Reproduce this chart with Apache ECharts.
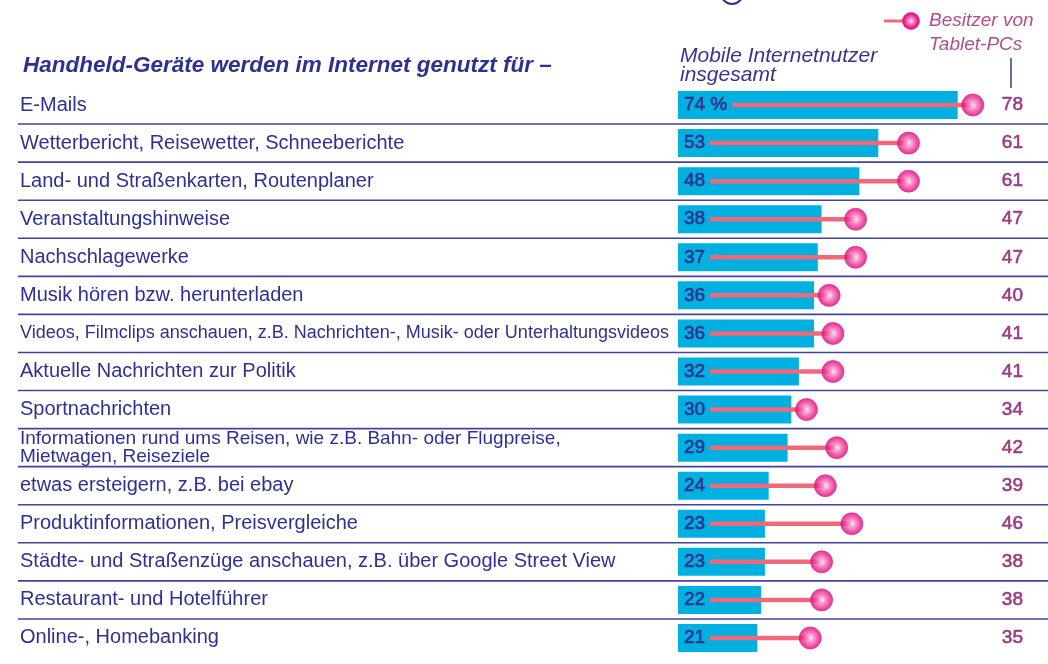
<!DOCTYPE html>
<html>
<head>
<meta charset="utf-8">
<script src="https://cdn.jsdelivr.net/npm/echarts@6/dist/echarts.min.js"></script>
<style>
  html, body { margin: 0; padding: 0; background: #fff; }
  #chart { width: 1048px; height: 664px; }
</style>
</head>
<body>
<div id="chart"></div>
<script>
// Nutzungszwecke (Zeilen von oben nach unten)
const categories = [
  'E-Mails',
  'Wetterbericht, Reisewetter, Schneeberichte',
  'Land- und Straßenkarten, Routenplaner',
  'Veranstaltungshinweise',
  'Nachschlagewerke',
  'Musik hören bzw. herunterladen',
  'Videos, Filmclips anschauen, z.B. Nachrichten-, Musik- oder Unterhaltungsvideos',
  'Aktuelle Nachrichten zur Politik',
  'Sportnachrichten',
  'Informationen rund ums Reisen, wie z.B. Bahn- oder Flugpreise,\nMietwagen, Reiseziele',
  'etwas ersteigern, z.B. bei ebay',
  'Produktinformationen, Preisvergleiche',
  'Städte- und Straßenzüge anschauen, z.B. über Google Street View',
  'Restaurant- und Hotelführer',
  'Online-, Homebanking'
];
// Mobile Internetnutzer insgesamt (%)
const mobileTotal = [74, 53, 48, 38, 37, 36, 36, 32, 30, 29, 24, 23, 23, 22, 21];
// Besitzer von Tablet-PCs (%)
const tabletOwners = [78, 61, 61, 47, 47, 40, 41, 41, 34, 42, 39, 46, 38, 38, 35];

const NAVY = '#2e3192';
const BAR = '#00b0e0';
const STICK = '#f0697b';
const PLUM = '#9b3b82';
const FONT = 'Liberation Sans';

const barLabel = (v, i) => (i === 0 ? v + ' %' : String(v));

// lange Zeilen sind im Original enger gesetzt
const labelStyle = (i) => (i === 6 ? 's' : i === 9 ? 'm' : 'n');

// Breite der Balkenbeschriftung messen, damit der Stiel danach beginnt
const ctx = document.createElement('canvas').getContext('2d');
ctx.font = '19px "' + FONT + '"';
const labelWidths = mobileTotal.map((v, i) => ctx.measureText(barLabel(v, i)).width);

const dotColor = {
  type: 'radial', x: 0.5, y: 0.5, r: 0.5,
  colorStops: [
    { offset: 0, color: '#fff0f7' },
    { offset: 0.35, color: '#f57cbc' },
    { offset: 0.8, color: '#e8198a' },
    { offset: 1, color: '#d9127a' }
  ]
};

const chart = echarts.init(document.getElementById('chart'), null, { renderer: 'canvas' });

chart.setOption({
  animation: false,
  title: {
    text: 'Handheld-Geräte werden im Internet genutzt für –',
    left: 18,
    top: 49,
    textStyle: {
      fontFamily: FONT,
      fontSize: 22.5,
      fontStyle: 'italic',
      fontWeight: 'bold',
      color: NAVY
    }
  },
  grid: { left: 18, right: 0, top: 86, bottom: 7 },
  xAxis: { type: 'value', min: -174.6, max: 97.9, show: false },
  yAxis: [
    {
      type: 'category',
      inverse: true,
      data: categories,
      axisLine: { show: false },
      axisTick: { show: false },
      splitLine: { show: false },
      axisLabel: {
        inside: true,
        margin: 2,
        formatter: (v, i) => v.split('\n').map((l) => '{' + labelStyle(i) + '|' + l + '}').join('\n'),
        rich: {
          n: { fontFamily: FONT, fontSize: 20, color: NAVY },
          s: { fontFamily: FONT, fontSize: 18, color: NAVY },
          m: { fontFamily: FONT, fontSize: 19, lineHeight: 18, color: NAVY }
        }
      }
    },
    {
      type: 'category',
      inverse: true,
      position: 'right',
      data: tabletOwners.map(String),
      axisLine: { show: false },
      axisTick: { show: false },
      splitLine: { show: false },
      axisLabel: {
        inside: true,
        margin: 25,
        fontFamily: FONT,
        fontSize: 19,
        color: PLUM,
        textBorderColor: PLUM,
        textBorderWidth: 0.6
      }
    }
  ],
  series: [
    // Trennlinien zwischen den Zeilen
    {
      type: 'custom',
      silent: true,
      z: 1,
      encode: { x: 0, y: 1 },
      data: categories.slice(0, -1).map((c, i) => [0, i]),
      renderItem: (params, api) => {
        const pt = api.coord([0, api.value(1)]);
        const band = api.size([0, 1])[1];
        const y = pt[1] + band / 2;
        const cs = params.coordSys;
        return {
          type: 'line',
          shape: { x1: cs.x, y1: y, x2: cs.x + cs.width, y2: y },
          style: { stroke: '#43439a', lineWidth: 1.6 }
        };
      }
    },
    {
      name: 'Mobile Internetnutzer insgesamt',
      type: 'bar',
      z: 2,
      barWidth: 28,
      data: mobileTotal,
      itemStyle: { color: BAR },
      label: {
        show: true,
        position: 'insideLeft',
        distance: 6,
        formatter: (p) => barLabel(p.value, p.dataIndex),
        fontFamily: FONT,
        fontSize: 19,
        color: '#35318e',
        textBorderColor: '#35318e',
        textBorderWidth: 0.6
      }
    },
    // Stiel vom Balken zum Punkt
    {
      type: 'custom',
      silent: true,
      z: 3,
      encode: { x: [0, 2], y: 1 },
      data: mobileTotal.map((v, i) => [v, i, tabletOwners[i]]),
      renderItem: (params, api) => {
        const i = api.value(1);
        const a = api.coord([0, i]);
        const b = api.coord([api.value(2), i]);
        return {
          type: 'line',
          shape: { x1: a[0] + 6 + labelWidths[i] + 5, y1: a[1], x2: b[0], y2: b[1] },
          style: { stroke: STICK, lineWidth: 4.5 }
        };
      }
    },
    {
      name: 'Besitzer von Tablet-PCs',
      type: 'scatter',
      z: 4,
      symbolSize: 22,
      data: tabletOwners.map((v, i) => [v, i]),
      itemStyle: { color: dotColor, borderColor: '#e0157f', borderWidth: 0.8 }
    }
  ],
  graphic: [
    // angeschnittenes Symbol am oberen Rand
    {
      type: 'circle',
      shape: { cx: 732, cy: -7, r: 11 },
      style: { fill: 'none', stroke: NAVY, lineWidth: 2 }
    },
    {
      type: 'text',
      left: 680,
      top: 46,
      style: {
        text: 'Mobile Internetnutzer\ninsgesamt',
        font: 'italic 21px "Liberation Sans"',
        lineHeight: 19,
        fill: '#34358f'
      }
    },
    // Legende Tablet-Besitzer
    {
      type: 'line',
      shape: { x1: 884, y1: 21, x2: 905, y2: 21 },
      style: { stroke: STICK, lineWidth: 3 }
    },
    {
      type: 'circle',
      shape: { cx: 911, cy: 21, r: 8.5 },
      style: { fill: dotColor, stroke: '#e0157f', lineWidth: 0.6 }
    },
    {
      type: 'text',
      left: 929,
      top: 9,
      style: {
        text: 'Besitzer von\nTablet-PCs',
        font: 'italic 19px "Liberation Sans"',
        lineHeight: 24,
        fill: '#b04f8e'
      }
    },
    {
      type: 'line',
      shape: { x1: 1011, y1: 58, x2: 1011, y2: 88 },
      style: { stroke: '#3d3a8a', lineWidth: 1.5 }
    }
  ]
});
</script>
</body>
</html>
